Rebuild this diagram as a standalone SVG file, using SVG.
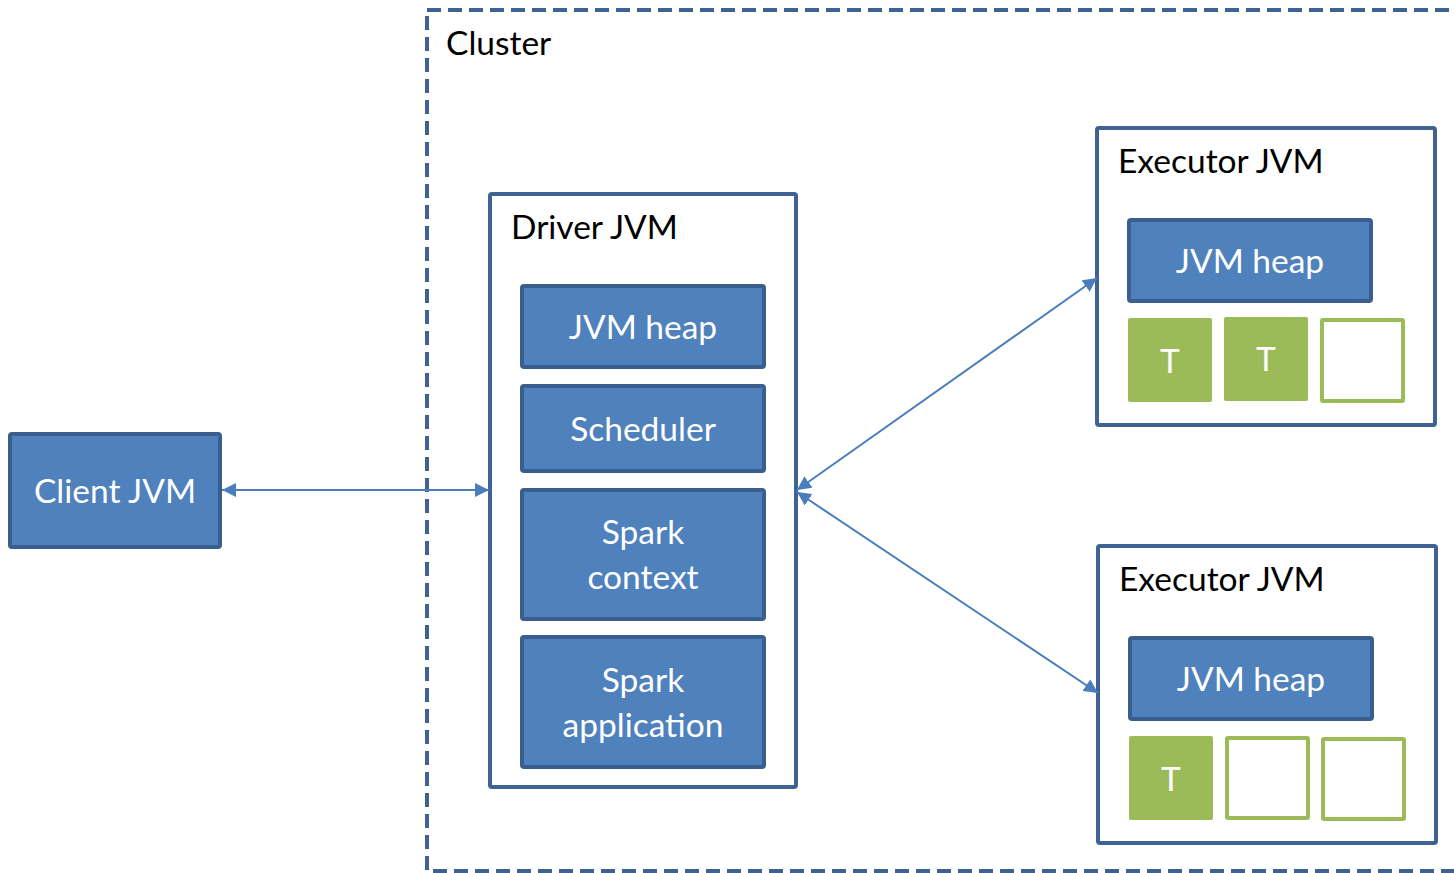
<svg xmlns="http://www.w3.org/2000/svg" width="1454" height="873" viewBox="0 0 1454 873">
  <defs>
    <style>
      .lbl { font-family: Lato, "Open Sans", sans-serif; font-size: 33.5px; }
      .dark { fill: #000000; }
      .light { fill: #ffffff; text-anchor: middle; }
      .blue { fill: #4F81BD; stroke: #3A5F8E; stroke-width: 4; }
      .frame { fill: #ffffff; stroke: #3F6294; stroke-width: 4; }
      .task { fill: #9BBB59; }
      .slot { fill: #ffffff; stroke: #9BBB59; stroke-width: 4; }
      .conn { stroke: #4A7EBB; stroke-width: 2; fill: none; marker-start: url(#arr); marker-end: url(#arr); }
    </style>
    <marker id="arr" viewBox="0 0 10 10" refX="10" refY="5" markerWidth="7" markerHeight="7" markerUnits="strokeWidth" orient="auto-start-reverse">
      <path d="M0,0 L10,5 L0,10 z" fill="#4A7EBB"/>
    </marker>
  </defs>

  <!-- cluster boundary -->
  <g id="cluster">
    <rect x="427" y="10" width="1060" height="861" fill="none" stroke="#3F6294" stroke-width="4" stroke-dasharray="14 7"/>
    <text class="lbl dark" x="446" y="55">Cluster</text>
  </g>

  <!-- client -->
  <g id="client">
    <rect class="blue" x="10" y="434" width="210" height="113" rx="2"/>
    <text class="lbl light" x="115" y="503">Client JVM</text>
  </g>

  <!-- driver -->
  <g id="driver">
    <rect class="frame" x="490" y="194" width="306" height="593" rx="2"/>
    <text class="lbl dark" x="511" y="239">Driver JVM</text>
  </g>
  <g id="driver-heap">
    <rect class="blue" x="522" y="286" width="242" height="81" rx="2"/>
    <text class="lbl light" x="643" y="339">JVM heap</text>
  </g>
  <g id="scheduler">
    <rect class="blue" x="522" y="386" width="242" height="85" rx="2"/>
    <text class="lbl light" x="643" y="441">Scheduler</text>
  </g>
  <g id="spark-context">
    <rect class="blue" x="522" y="490" width="242" height="129" rx="2"/>
    <text class="lbl light" x="643" y="544">Spark</text>
    <text class="lbl light" x="643" y="589">context</text>
  </g>
  <g id="spark-application">
    <rect class="blue" x="522" y="637" width="242" height="130" rx="2"/>
    <text class="lbl light" x="643" y="692">Spark</text>
    <text class="lbl light" x="643" y="737">application</text>
  </g>

  <!-- executor 1 -->
  <g id="executor-1">
    <rect class="frame" x="1097" y="128" width="338" height="297" rx="2"/>
    <text class="lbl dark" x="1118" y="173">Executor JVM</text>
  </g>
  <g id="executor-1-heap">
    <rect class="blue" x="1129" y="220" width="242" height="81" rx="2"/>
    <text class="lbl light" x="1250" y="273">JVM heap</text>
  </g>
  <g id="executor-1-tasks">
    <rect class="task" x="1128" y="318" width="84" height="84" rx="2"/>
    <text class="lbl light" x="1170" y="373">T</text>
    <rect class="task" x="1224" y="317" width="84" height="84" rx="2"/>
    <text class="lbl light" x="1266" y="371">T</text>
    <rect class="slot" x="1322" y="320" width="81" height="81" rx="1"/>
  </g>

  <!-- executor 2 -->
  <g id="executor-2">
    <rect class="frame" x="1098" y="546" width="338" height="297" rx="2"/>
    <text class="lbl dark" x="1119" y="591">Executor JVM</text>
  </g>
  <g id="executor-2-heap">
    <rect class="blue" x="1130" y="638" width="242" height="81" rx="2"/>
    <text class="lbl light" x="1251" y="691">JVM heap</text>
  </g>
  <g id="executor-2-tasks">
    <rect class="task" x="1129" y="736" width="84" height="84" rx="2"/>
    <text class="lbl light" x="1171" y="791">T</text>
    <rect class="slot" x="1227" y="738" width="81" height="80" rx="1"/>
    <rect class="slot" x="1323" y="739" width="81" height="80" rx="1"/>
  </g>

  <!-- connectors -->
  <g id="connectors">
    <line class="conn" x1="222" y1="490" x2="489" y2="490"/>
    <line class="conn" x1="797" y1="490" x2="1097" y2="278"/>
    <line class="conn" x1="797" y1="492" x2="1098" y2="693"/>
  </g>
</svg>
